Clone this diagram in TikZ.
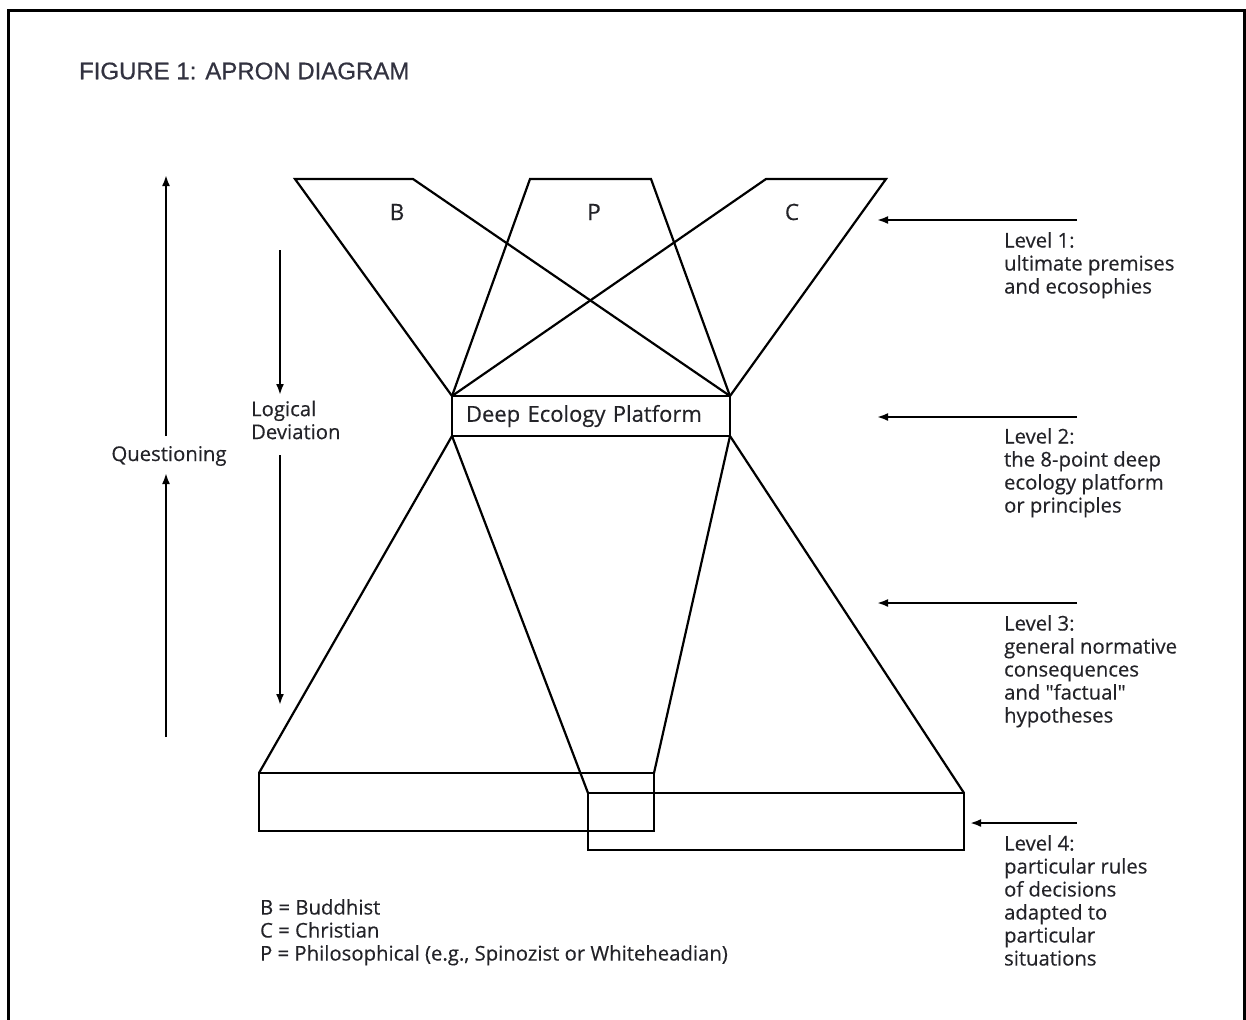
\documentclass[tikz,border=0pt]{standalone}
\usepackage{fontspec}
\setmainfont{Open Sans}[Ligatures=TeXOff, FakeBold=0.35]
\newfontfamily\titlefont{Liberation Sans}[FakeBold=0.6]
\usetikzlibrary{arrows.meta}
\definecolor{textgray}{RGB}{35,35,40}
\definecolor{titlegray}{RGB}{50,50,64}
\begin{document}
\begin{tikzpicture}[x=1pt,y=-1pt,
  line width=2.2pt,
  txt/.style={inner sep=0pt, text=textgray, font=\fontsize{20.3}{23}\selectfont, align=left},
  letter/.style={inner sep=0pt, text=textgray, font=\fontsize{22.5}{24}\selectfont},
  box/.style={draw, line width=2.2pt, inner sep=0pt, outer sep=0pt},
  arr/.style={-{Latex[length=11pt,width=8pt]}, line width=2.2pt}]
\useasboundingbox (0,0) rectangle (1246,1019);
\draw[line width=3pt] (8.5,1030) -- (8.5,11) -- (1244,11) -- (1244,1030);

\node[anchor=west, inner sep=0pt, text=titlegray, font=\titlefont\fontsize{24}{28}\selectfont] (title) at (78,71) {FIGURE 1: APRON DIAGRAM};

% platform
\node[box, anchor=north west, inner xsep=14pt, inner ysep=0pt, text width=250pt, minimum height=40pt, align=left, text=textgray, font=\fontsize{22}{24}\selectfont] (plat) at (452,396) {Deep Ecology Platform};

% bottom boxes
\node[box, anchor=north west, minimum width=395pt, minimum height=58pt] (lbox) at (259,773) {};
\node[box, anchor=north west, minimum width=376pt, minimum height=57pt] (rbox) at (588,793) {};

% trapezoid tops
\coordinate (b1) at (295,179);
\coordinate (b2) at (413,179);
\coordinate (p1) at (530,179);
\coordinate (p2) at (651,179);
\coordinate (c1) at (766,179);
\coordinate (c2) at (886,179);
\draw (plat.north west) -- (b1) -- (b2) -- (plat.north east);
\draw (plat.north west) -- (p1) -- (p2) -- (plat.north east);
\draw (plat.north west) -- (c1) -- (c2) -- (plat.north east);

\node[letter] (lb) at (397,212) {B};
\node[letter] (lp) at (594,212) {P};
\node[letter] (lc) at (792,212) {C};

% lower apron
\draw (plat.south west) -- (lbox.north west);
\draw (plat.south west) -- (rbox.north west);
\draw (plat.south east) -- (lbox.north east);
\draw (plat.south east) -- (rbox.north east);

% level arrows
\coordinate (a1s) at (1077,220); \coordinate (a1e) at (877,220);
\coordinate (a2s) at (1077,417); \coordinate (a2e) at (877,417);
\coordinate (a3s) at (1077,603); \coordinate (a3e) at (877,603);
\coordinate (a4s) at (1077,823); \coordinate (a4e) at (970,823);
\draw[arr] (a1s) -- (a1e);
\draw[arr] (a2s) -- (a2e);
\draw[arr] (a3s) -- (a3e);
\draw[arr] (a4s) -- (a4e);

\node[txt, anchor=north west] (lev1) at (1003,231) {Level 1:\\ultimate premises\\and ecosophies};
\node[txt, anchor=north west] (lev2) at (1003,427) {Level 2:\\the 8-point deep\\ecology platform\\or principles};
\node[txt, anchor=north west] (lev3) at (1003,614) {Level 3:\\general normative\\consequences\\and "factual"\\hypotheses};
\node[txt, anchor=north west] (lev4) at (1003,834) {Level 4:\\particular rules\\of decisions\\adapted to\\particular\\situations};

% questioning
\node[txt] (quest) at (169,456) {Questioning};
\coordinate (q1s) at (166,436); \coordinate (q1e) at (166,175);
\coordinate (q2s) at (166,737); \coordinate (q2e) at (166,473);
\draw[arr] (q1s) -- (q1e);
\draw[arr] (q2s) -- (q2e);

% logical deviation
\node[txt, anchor=west] (logic) at (250,420) {Logical\\Deviation};
\coordinate (d1s) at (280,250); \coordinate (d1e) at (280,395);
\coordinate (d2s) at (280,455); \coordinate (d2e) at (280,705);
\draw[arr] (d1s) -- (d1e);
\draw[arr] (d2s) -- (d2e);

% legend
\node[txt, anchor=north west] (legend) at (259,898) {B = Buddhist\\C = Christian\\P = Philosophical (e.g., Spinozist or Whiteheadian)};
\end{tikzpicture}
\end{document}
